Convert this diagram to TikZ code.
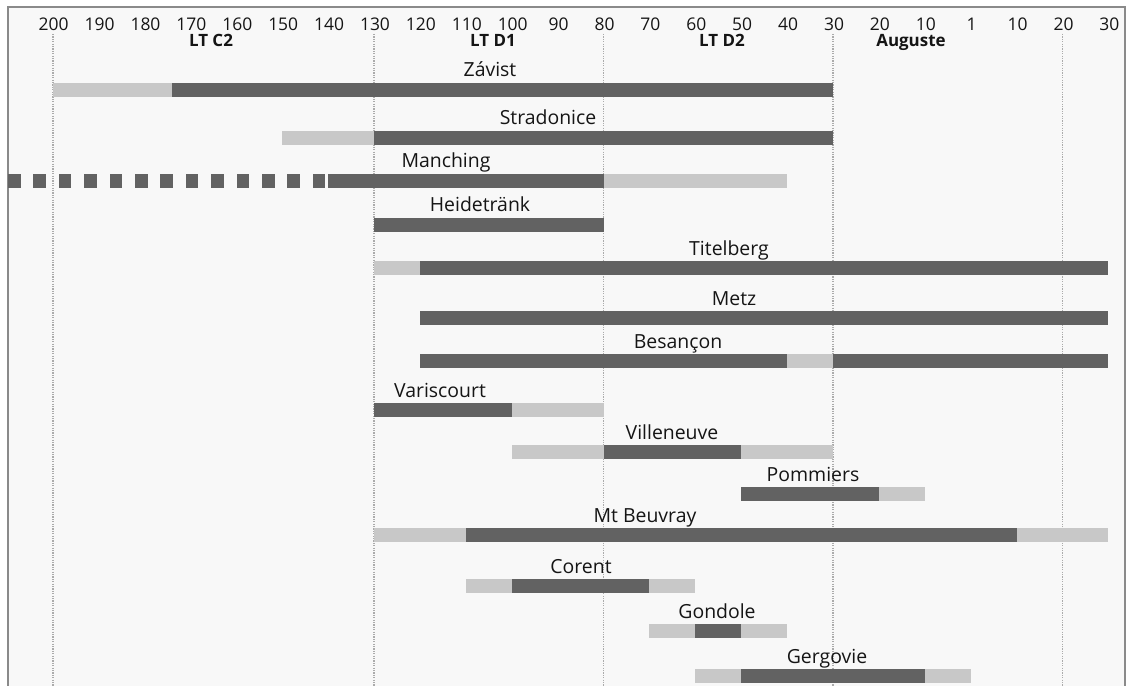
\documentclass[tikz,border=0pt]{standalone}
\usepackage{fontspec}
\setmainfont{Open Sans}
\definecolor{darkbar}{HTML}{626262}
\definecolor{lightbar}{HTML}{C8C8C8}
\definecolor{txt}{HTML}{151515}
\definecolor{gridc}{HTML}{ABABAB}
\definecolor{framec}{HTML}{8A8A8A}
\definecolor{bgc}{HTML}{F8F8F8}
\newcommand\bseg[4]{\fill[#4] ({X(#2)},{#1-7}) rectangle ({X(#3)},{#1+7});}
\begin{document}
\begin{tikzpicture}[x=1bp,y=-1bp,
  declare function={X(\t)=833+4.59*(\t+30);},
  dk/.style={fill=darkbar}, lt/.style={fill=lightbar},
  site/.style={anchor=base,inner sep=0pt,font=\fontsize{19.5}{22}\selectfont,text=txt},
  num/.style={anchor=base,inner sep=0pt,font=\fontsize{17.5}{20}\selectfont,text=txt},
  per/.style={anchor=base,inner sep=0pt,font=\bfseries\fontsize{17}{20}\selectfont,text=txt},
  gridline/.style={draw=gridc,line width=1.6bp,dash pattern=on 1.2bp off 1.2bp}]
\useasboundingbox (0,0) rectangle (1129,686);
\fill[white] (0,0) rectangle (1129,686);
\fill[bgc] (8,7) rectangle (1125,686);
% grid
\foreach \t in {-200,-130,-80,-30,20}
  \draw[gridline] ({X(\t)},34) -- ({X(\t)},686);
% frame
\draw[framec,line width=1.5bp] (8,686) -- (8,7) -- (1125,7) -- (1125,686);
% axis numbers
\foreach [count=\i] \v/\t in {200/-200,190/-190,180/-180,170/-170,160/-160,150/-150,140/-140,130/-130,120/-120,110/-110,100/-100,90/-90,80/-80,70/-70,60/-60,50/-50,40/-40,30/-30,20/-20,10/-10,1/0,10/10,20/20,30/30}
  \node[num] (num\i) at ({X(\t)+1},31) {\v};
% periods
\node[per] (ltc2) at (211,47) {LT C2};
\node[per] (ltd1) at (493,47) {LT D1};
\node[per] (ltd2) at (722,47) {LT D2};
\node[per] (aug) at (911,47) {Auguste};
% Zavist
\bseg{90}{-200}{-174}{lt}\bseg{90}{-174}{-30}{dk}
\node[site] (zavist) at (490,77) {Závist};
% Stradonice
\bseg{138}{-150}{-130}{lt}\bseg{138}{-130}{-30}{dk}
\node[site] (strad) at (548,125) {Stradonice};
% Manching
\foreach \k in {0,...,12} \fill[dk] ({8+25.4*\k},174) rectangle ({20.5+25.4*\k},188);
\bseg{181}{-140}{-80}{dk}\bseg{181}{-80}{-40}{lt}
\node[site] (manching) at (446,168) {Manching};
% Heidetrank
\bseg{225}{-130}{-80}{dk}
\node[site] (heide) at (480,212) {Heidetränk};
% Titelberg
\bseg{268}{-130}{-120}{lt}\bseg{268}{-120}{30}{dk}
\node[site] (titel) at (729,255) {Titelberg};
% Metz
\bseg{318}{-120}{30}{dk}
\node[site] (metz) at (734,305) {Metz};
% Besancon
\bseg{361}{-120}{-40}{dk}\bseg{361}{-40}{-30}{lt}\bseg{361}{-30}{30}{dk}
\node[site] (besancon) at (678,348) {Besançon};
% Variscourt
\bseg{410}{-130}{-100}{dk}\bseg{410}{-100}{-80}{lt}
\node[site] (varis) at (440,397) {Variscourt};
% Villeneuve
\bseg{452}{-100}{-80}{lt}\bseg{452}{-80}{-50}{dk}\bseg{452}{-50}{-30}{lt}
\node[site] (villen) at (672,439) {Villeneuve};
% Pommiers
\bseg{494}{-50}{-20}{dk}\bseg{494}{-20}{-10}{lt}
\node[site] (pomm) at (813,481) {Pommiers};
% Mt Beuvray
\bseg{535}{-130}{-110}{lt}\bseg{535}{-110}{10}{dk}\bseg{535}{10}{30}{lt}
\node[site] (beuvray) at (645,522) {Mt Beuvray};
% Corent
\bseg{586}{-110}{-100}{lt}\bseg{586}{-100}{-70}{dk}\bseg{586}{-70}{-60}{lt}
\node[site] (corent) at (581,573) {Corent};
% Gondole
\bseg{631}{-70}{-60}{lt}\bseg{631}{-60}{-50}{dk}\bseg{631}{-50}{-40}{lt}
\node[site] (gondole) at (717,618) {Gondole};
% Gergovie
\bseg{676}{-60}{-50}{lt}\bseg{676}{-50}{-10}{dk}\bseg{676}{-10}{0}{lt}
\node[site] (gergovie) at (827,663) {Gergovie};
\end{tikzpicture}
\end{document}
